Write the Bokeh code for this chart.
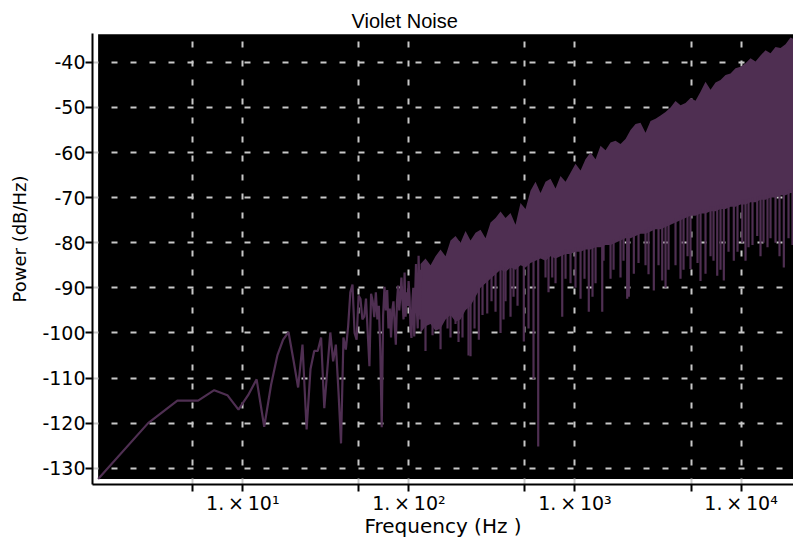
import numpy as np
from bokeh.plotting import figure
from bokeh.models import FixedTicker, BoxAnnotation, Range1d
from bokeh.embed import file_html
from bokeh.resources import INLINE

# ---------------- data ----------------
bin_hz = 1.3458  # FFT bin spacing (44100 / 32768)

# power (dB/Hz) of the first FFT bins (1 .. 88)
line_db = [
    -132.4, -120.0, -115.0, -115.0, -112.7, -113.8, -117.0, -113.8, -110.3, -120.8,
    -111.5, -105.0, -101.5, -99.8, -106.0, -112.1, -102.6, -121.4, -108.0, -104.0,
    -104.0, -101.0, -116.7, -108.0, -99.9, -106.3, -102.6, -113.0, -124.5, -101.0,
    -103.7, -98.6, -91.0, -89.3, -100.0, -101.5, -91.7, -92.5, -97.0, -96.4,
    -92.4, -100.0, -107.4, -91.3, -93.0, -96.5, -91.0, -97.0, -94.0, -104.0,
    -120.9, -96.0, -89.8, -95.0, -90.5, -99.0, -94.6, -101.0, -95.0, -93.0,
    -98.0, -102.6, -93.0, -89.5, -95.0, -92.0, -87.7, -93.0, -97.0, -86.6,
    -96.4, -91.0, -94.0, -88.5, -92.0, -99.0, -101.1, -93.0, -90.0, -100.8,
    -92.0, -84.7, -95.0, -99.0, -82.9, -90.0, -97.0, -86.0,
]
line_freq = [bin_hz * (i + 1) for i in range(len(line_db))]

# dense high-frequency part: envelope of the spectrum
band_freq = [
    117.5, 125.9, 135.0, 144.7, 155.1, 166.2, 178.1, 190.9, 204.6, 219.3,
    235.0, 251.9, 270.0, 289.4, 310.2, 332.4, 356.3, 381.8, 409.2, 438.6,
    470.0, 503.7, 539.9, 578.6, 620.2, 664.7, 712.5, 763.6, 818.4, 877.2,
    940.0, 1007, 1080, 1157, 1240, 1330, 1425, 1527, 1637, 1754,
    1880, 2015, 2160, 2315, 2481, 2659, 2850, 3054, 3274, 3509,
    3760, 4030, 4319, 4629, 4961, 5318, 5699, 6108, 6547, 7017,
    7520, 8060, 8638, 9258, 9923, 10635, 11398, 12216, 13093, 14033,
    15040, 16120, 17277, 18517, 19846, 21270, 22050,
]
band_upper = [
    -84.7, -83.5, -85.0, -83.0, -81.5, -83.0, -79.5, -78.5, -80.0, -77.4,
    -79.5, -77.8, -77.1, -79.0, -75.5, -74.5, -73.1, -74.5, -73.4, -76.0,
    -71.2, -72.5, -68.5, -66.5, -69.0, -66.5, -65.8, -68.0, -65.2, -66.5,
    -64.5, -62.5, -64.0, -61.5, -60.0, -61.5, -58.5, -59.5, -57.8, -57.4,
    -58.1, -57.0, -55.0, -53.7, -53.4, -55.6, -53.0, -52.5, -51.8, -51.0,
    -50.0, -48.6, -49.5, -49.0, -47.9, -48.5, -46.5, -44.3, -46.1, -44.5,
    -43.9, -42.8, -42.5, -41.3, -41.0, -40.2, -39.1, -39.8, -38.5, -37.3,
    -38.0, -36.6, -36.8, -36.0, -34.5, -35.0, -34.2,
]
band_lower = [
    -100.0, -98.5, -98.0, -99.5, -99.0, -97.0, -96.0, -97.5, -97.0, -95.0,
    -94.0, -92.0, -90.0, -89.0, -88.0, -87.0, -86.0, -86.5, -85.5, -86.0,
    -85.0, -85.5, -84.5, -84.0, -83.5, -84.0, -83.0, -83.5, -83.0, -82.5,
    -82.5, -82.0, -82.0, -81.5, -81.5, -81.0, -81.0, -80.5, -80.5, -80.0,
    -79.5, -79.0, -79.0, -78.5, -78.0, -78.0, -77.5, -77.0, -77.0, -76.5,
    -76.0, -75.5, -75.0, -74.5, -74.0, -74.0, -73.5, -73.5, -73.0, -73.0,
    -72.5, -72.5, -72.0, -72.0, -71.5, -71.5, -71.0, -71.0, -70.5, -70.5,
    -70.0, -70.0, -69.5, -69.5, -69.0, -69.0, -68.5,
]

# deep single-bin dips below the dense band
dip_freq = [
    125.9, 138.8, 155.1, 170.9, 178.1, 190.9, 199.0, 210.3, 228.6, 235.0,
    248.4, 263.7, 277.6, 296.3, 314.5, 332.4, 356.3, 371.4, 381.8, 409.2,
    426.6, 450.9, 492.0, 525.1, 562.8, 600.6, 664.7, 693.0, 729.5, 763.6,
    838.0, 877.2, 940.0, 1007, 1080, 1141, 1211, 1275, 1330, 1459,
    1486, 1637, 1707, 1880, 1960, 2063, 2109, 2261, 2413, 2659,
    2772, 2983, 3184, 3352, 3509, 3658, 4030, 4319, 4503, 4759,
    4961, 5467, 5699, 6108, 6547, 6825, 7185, 7520, 7872, 8403,
    9042, 9517, 10160, 10635, 11087, 11717, 12508, 13093, 13650, 14426,
    15040, 16120, 17040, 18086, 19304, 20402,
]
dip_db = [
    -104.0, -100.5, -103.6, -99.0, -101.0, -98.0, -102.0, -101.0, -105.0, -105.2,
    -99.0, -101.5, -96.0, -95.7, -93.0, -95.3, -100.0, -97.0, -93.0, -96.4,
    -92.0, -94.0, -101.9, -99.0, -110.3, -125.2, -87.7, -91.0, -87.7, -89.0,
    -96.4, -88.0, -89.0, -90.0, -92.4, -88.0, -95.3, -92.0, -89.0, -95.3,
    -84.0, -88.0, -86.0, -87.7, -84.0, -92.4, -92.0, -86.9, -84.5, -85.0,
    -87.0, -90.6, -85.0, -88.4, -90.0, -86.0, -85.0, -88.0, -86.0, -83.0,
    -85.8, -84.5, -88.5, -86.9, -83.0, -84.0, -87.3, -86.0, -88.4, -82.0,
    -84.0, -82.0, -80.0, -84.0, -81.0, -80.5, -78.5, -83.0, -80.0, -81.0,
    -79.0, -80.0, -83.0, -85.5, -79.0, -80.5,
]

x_ticks = [5, 10, 50, 100, 500, 1000, 5000, 10000]
x_tick_labels = {5: "", 10: "1.\u2009\u00d7\u200910\u00b9", 50: "",
                 100: "1.\u2009\u00d7\u200910\u00b2", 500: "",
                 1000: "1.\u2009\u00d7\u200910\u00b3", 5000: "",
                 10000: "1.\u2009\u00d7\u200910\u2074"}
y_ticks = [-130, -120, -110, -100, -90, -80, -70, -60, -50, -40]
y_tick_labels = {v: "-" + str(-v) for v in y_ticks}

title_text = "Violet Noise"
x_label = "Frequency (Hz )"
y_label = "Power (dB/Hz)"

# ---------------- figure ----------------
purple = "#4f2f52"

p = figure(width=793, height=540, x_axis_type="log",
           x_range=Range1d(1.245, 20683), y_range=Range1d(-133.61, -33.61),
           output_backend="svg", toolbar_location=None,
           min_border_left=92, min_border_right=0, min_border_top=33,
           min_border_bottom=50)
p.background_fill_color = "white"
p.border_fill_color = "white"
p.outline_line_color = None

p.title.text = title_text
p.title.align = "left"
p.title.offset = 259
p.title.standoff = 3
p.title.text_font = "Liberation Sans"
p.title.text_font_size = "20px"
p.title.text_font_style = "normal"
p.title.text_color = "black"

# black plotting region (exactly covering the data range)
p.add_layout(BoxAnnotation(left=line_freq[0], right=band_freq[-1],
                           bottom=min(line_db), top=-33.8,
                           fill_color="black", fill_alpha=1.0,
                           line_alpha=0, level="image"))

# grid
for g in (p.xgrid, p.ygrid):
    g.grid_line_color = "#c8c8c8"
    g.grid_line_width = 2
    g.grid_line_dash = "6 13"
p.xgrid.ticker = FixedTicker(ticks=x_ticks)
p.ygrid.ticker = FixedTicker(ticks=y_ticks)

# axes
p.xaxis.ticker = FixedTicker(ticks=x_ticks)
p.xaxis.major_label_overrides = x_tick_labels
p.yaxis.ticker = FixedTicker(ticks=y_ticks)
p.yaxis.major_label_overrides = y_tick_labels
p.xaxis.axis_label = x_label
# leading no-break spaces lift the rotated label slightly, as in the original
p.yaxis.axis_label = "\u00a0" * 7 + y_label
for ax in (p.xaxis, p.yaxis):
    ax.axis_line_color = "black"
    ax.axis_line_width = 2
    ax.major_tick_line_color = "black"
    ax.major_tick_line_width = 2
    ax.major_tick_in = 0
    ax.major_tick_out = 7
    ax.minor_tick_line_color = None
    ax.major_label_text_font = "DejaVu Sans"
    ax.major_label_text_font_size = "19px"
    ax.major_label_text_color = "black"
    ax.major_label_standoff = 0
    ax.axis_label_text_font = "DejaVu Sans"
    ax.axis_label_text_font_style = "normal"
    ax.axis_label_text_color = "black"
p.xaxis.axis_label_text_font_size = "20px"
p.yaxis.axis_label_text_font_size = "18px"
p.xaxis.axis_label_standoff = -3
p.yaxis.axis_label_standoff = 9

# data
p.varea(x=band_freq, y1=band_lower, y2=band_upper, fill_color=purple, fill_alpha=1.0)
lb = np.log10(np.array(band_freq, dtype=float))
dip_top = np.interp(np.log10(np.array(dip_freq, dtype=float)), lb, np.array(band_lower)) + 1.0
p.segment(x0=dip_freq, y0=dip_db, x1=dip_freq, y1=dip_top, line_color=purple, line_width=2.2)
p.line(line_freq, line_db, line_color=purple, line_width=2.2)

open("out.html", "w").write(file_html(p, INLINE))
